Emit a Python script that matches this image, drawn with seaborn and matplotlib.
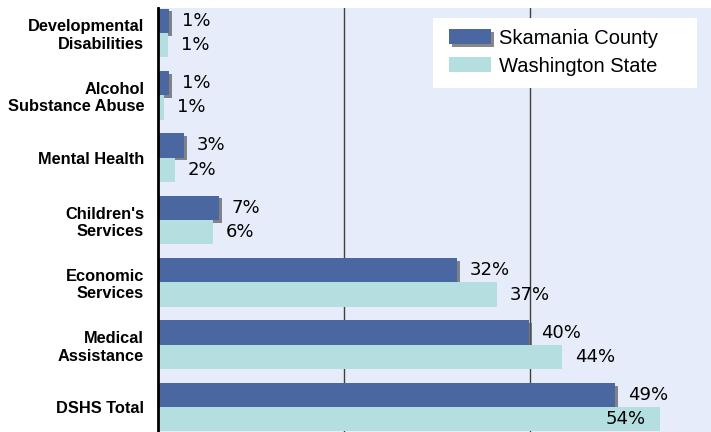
import pandas as pd
import seaborn as sns
import matplotlib.pyplot as plt
import matplotlib.patheffects as pe
from matplotlib.patches import Rectangle

# data
categories = ["Developmental\nDisabilities", "Alcohol\nSubstance Abuse", "Mental Health",
              "Children's\nServices", "Economic\nServices", "Medical\nAssistance", "DSHS Total"]
county = [1.2, 1.2, 2.8, 6.6, 32.2, 39.9, 49.2]
state = [1.1, 0.65, 1.8, 5.9, 36.5, 43.5, 54.0]
county_labels = ["1%", "1%", "3%", "7%", "32%", "40%", "49%"]
state_labels = ["1%", "1%", "2%", "6%", "37%", "44%", "54%"]
series = ["Skamania County", "Washington State"]
colors = ["#4B67A1", "#B4DEDF"]

df = pd.DataFrame({
    "category": categories * 2,
    "value": county + state,
    "series": [series[0]] * len(categories) + [series[1]] * len(categories),
})

sns.set_style("white")
plt.rcParams['font.family'] = ['Liberation Sans', 'DejaVu Sans']
plt.rcParams['text.color'] = 'black'
plt.rcParams['ytick.color'] = 'black'

fig = plt.figure(figsize=(7.11, 4.32), dpi=100)
ax = fig.add_axes([158 / 711, 0, 553 / 711, 424 / 432])
ax.set_facecolor("#E6ECF9")

sns.barplot(data=df, y="category", x="value", hue="series", palette=colors,
            width=0.78, saturation=1, linewidth=0, ax=ax, zorder=2)

ax.set_xlim(0, 59.5)
ax.set_ylim(6.4, -0.4)
ax.set_xticks([20, 40])
ax.xaxis.grid(True, color="#404040", lw=1)
ax.set_axisbelow(True)
ax.tick_params(axis="x", length=0, labelbottom=False)
ax.tick_params(axis="y", length=6.5, width=0.8, color="#555555", pad=3.5)
ax.set_xlabel("")
ax.set_ylabel("")
for lab in ax.get_yticklabels():
    lab.set_fontsize(11.75)
    lab.set_fontweight("bold")
    lab.set_linespacing(1.2)
    lab.set_color("black")

for side in ["top", "right", "bottom"]:
    ax.spines[side].set_visible(False)
ax.spines["left"].set_color("black")
ax.spines["left"].set_linewidth(2)

shadow = [pe.SimplePatchShadow(offset=(2, -2), shadow_rgbFace="#555555", alpha=0.7), pe.Normal()]

# value labels
dark, light = ax.containers[0], ax.containers[1]
for bar, txt in zip(dark, county_labels):
    bar.set_path_effects(shadow)
    y = bar.get_y() + bar.get_height() / 2
    ax.annotate(txt, (bar.get_width(), y), xytext=(9, 0), textcoords="offset points",
                ha="left", va="center", fontsize=13, family="DejaVu Sans", color="black")
for i, (bar, txt) in enumerate(zip(light, state_labels)):
    y = bar.get_y() + bar.get_height() / 2
    if i == len(state_labels) - 1:
        ax.annotate(txt, (bar.get_width(), y), xytext=(-10, 0), textcoords="offset points",
                    ha="right", va="center", fontsize=13, family="DejaVu Sans", color="black")
    else:
        ax.annotate(txt, (bar.get_width(), y), xytext=(9, 0), textcoords="offset points",
                    ha="left", va="center", fontsize=13, family="DejaVu Sans", color="black")

# legend: white box x 433..697, y 18..88 px
ax.add_patch(Rectangle(((433 - 158) / 553, 1 - 80 / 424), 264 / 553, 70 / 424,
                       transform=ax.transAxes, facecolor="white", edgecolor="none", zorder=4))
leg = ax.legend(title=None, loc="upper left",
                bbox_to_anchor=((449 - 158) / 553, 1 - 20.5 / 424),
                frameon=False, fontsize=14.5, handlelength=2.1, handleheight=0.8,
                borderpad=0, labelspacing=0.45, handletextpad=0.4, borderaxespad=0)
leg.set_zorder(5)
leg.legend_handles[0].set_path_effects(shadow)

fig.savefig("out.png", dpi=100)
